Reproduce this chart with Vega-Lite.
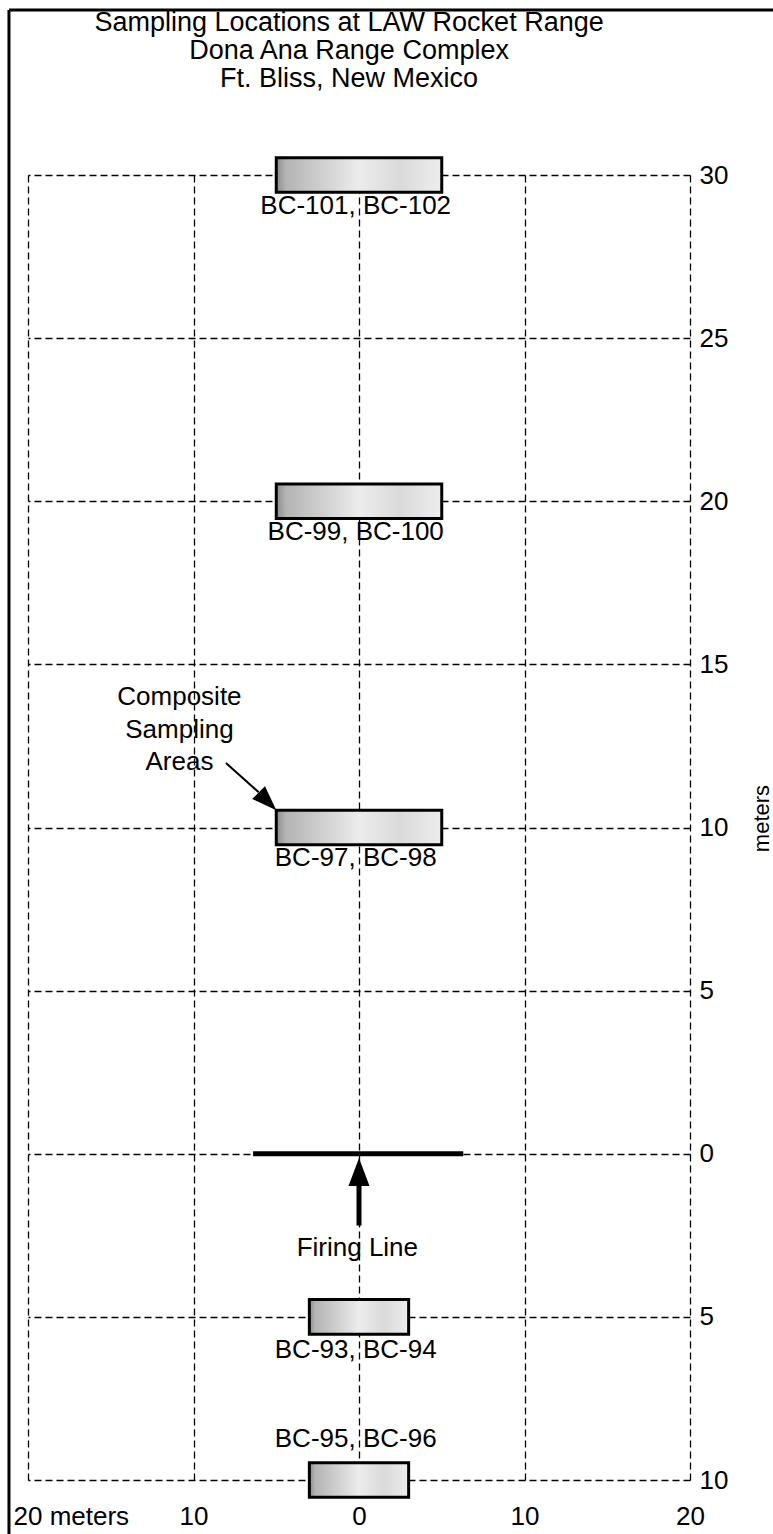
{
  "$schema": "https://vega.github.io/schema/vega-lite/v6.json",
  "width": 662,
  "height": 1305,
  "autosize": {"type": "none"},
  "padding": {"left": 28, "top": 175, "right": 83, "bottom": 54},
  "background": "white",
  "config": {
    "view": {"stroke": null},
    "font": "Liberation Sans",
    "text": {"font": "Liberation Sans"}
  },
  "datasets": {
    "frame": [
      {"x": -21.15, "x2": -21.15, "y": 35.06, "y2": -11.9},
      {"x": -21.15, "x2": 25.6, "y": 35.06, "y2": 35.06}
    ],
    "titleLines": [
      {"text": "Sampling Locations at LAW Rocket Range", "x": -0.6, "y": 34.41},
      {"text": "Dona Ana Range Complex", "x": -0.6, "y": 33.556},
      {"text": "Ft. Bliss, New Mexico", "x": -0.6, "y": 32.697}
    ],
    "boxes": [
      {"name": "BC-101, BC-102", "x": -5, "x2": 5, "y": 29.47, "y2": 30.53},
      {"name": "BC-99, BC-100", "x": -5, "x2": 5, "y": 19.47, "y2": 20.53},
      {"name": "BC-97, BC-98", "x": -5, "x2": 5, "y": 9.47, "y2": 10.53},
      {"name": "BC-93, BC-94", "x": -3, "x2": 3, "y": -5.53, "y2": -4.47},
      {"name": "BC-95, BC-96", "x": -3, "x2": 3, "y": -10.53, "y2": -9.47}
    ],
    "labels": [
      {"text": "BC-101, BC-102", "x": -0.2, "y": 29.05},
      {"text": "BC-99, BC-100", "x": -0.2, "y": 19.05},
      {"text": "BC-97, BC-98", "x": -0.2, "y": 9.05},
      {"text": "Firing Line", "x": -0.1, "y": -2.9},
      {"text": "BC-93, BC-94", "x": -0.2, "y": -6.0},
      {"text": "BC-95, BC-96", "x": -0.2, "y": -8.75},
      {"text": "Composite\nSampling\nAreas", "x": -10.85, "y": 14.0}
    ],
    "firing": [
      {"x": -6.4, "x2": 6.3, "y": 0, "y2": 0}
    ],
    "shafts": [
      {"x": 0, "x2": 0, "y": -0.95, "y2": -2.2, "kind": "firing"},
      {"x": -8.04, "x2": -6.06, "y": 11.98, "y2": 11.08, "kind": "composite"}
    ],
    "headFiring": [{"x": 0, "y": -0.56}],
    "headComposite": [{"x": -5.53, "y": 10.8}]
  },
  "encoding": {
    "x": {
      "field": "x",
      "type": "quantitative",
      "scale": {"domain": [-20, 20], "nice": false, "zero": false},
      "axis": {
        "orient": "bottom",
        "title": null,
        "values": [-20, -10, 0, 10, 20],
        "labelExpr": "datum.value == -20 ? '20 meters' : '' + abs(datum.value)",
        "labelAlign": {"condition": {"test": "datum.value == -20", "value": "left"}, "value": "center"},
        "labelOffset": {"condition": {"test": "datum.value == -20", "value": -15}, "value": 0},
        "labelFont": "Liberation Sans",
        "labelFontSize": 26,
        "labelColor": "black",
        "labelBaseline": "top",
        "labelPadding": 23,
        "labelFlush": false,
        "labelOverlap": false,
        "labelBound": false,
        "ticks": false,
        "domain": false,
        "grid": true,
        "gridColor": "black",
        "gridDash": [7, 4],
        "gridWidth": 1.3,
        "gridOpacity": 1
      }
    },
    "y": {
      "field": "y",
      "type": "quantitative",
      "scale": {"domain": [-10, 30], "nice": false, "zero": false},
      "axis": {
        "orient": "right",
        "title": "meters",
        "titleFont": "Liberation Sans",
        "titleFontSize": 22,
        "titleFontWeight": "normal",
        "titleColor": "black",
        "titleAngle": -90,
        "titleAlign": "center",
        "titleBaseline": "alphabetic",
        "titleX": 78,
        "titleY": 643,
        "values": [-10, -5, 0, 5, 10, 15, 20, 25, 30],
        "labelExpr": "'' + abs(datum.value)",
        "labelAlign": "left",
        "labelBaseline": "middle",
        "labelFont": "Liberation Sans",
        "labelFontSize": 26,
        "labelColor": "black",
        "labelPadding": 9,
        "labelFlush": false,
        "labelOverlap": false,
        "labelBound": false,
        "ticks": false,
        "domain": false,
        "grid": true,
        "gridColor": "black",
        "gridDash": [7, 4],
        "gridWidth": 1.3,
        "gridOpacity": 1
      }
    }
  },
  "layer": [
    {
      "data": {"name": "frame"},
      "mark": {"type": "rule", "color": "black", "strokeWidth": 3},
      "encoding": {
        "x2": {"field": "x2"},
        "y2": {"field": "y2"}
      }
    },
    {
      "data": {"name": "firing"},
      "mark": {"type": "rule", "color": "black", "strokeWidth": 5, "strokeCap": "butt"},
      "encoding": {
        "x2": {"field": "x2"},
        "y2": {"field": "y2"}
      }
    },
    {
      "data": {"name": "boxes"},
      "mark": {
        "type": "rect",
        "stroke": "black",
        "strokeWidth": 3,
        "fill": {
          "gradient": "linear",
          "x1": 0, "y1": 0, "x2": 1, "y2": 0,
          "stops": [
            {"offset": 0, "color": "#8c8c8c"},
            {"offset": 0.06, "color": "#b4b4b4"},
            {"offset": 0.3, "color": "#d2d2d2"},
            {"offset": 0.5, "color": "#ececec"},
            {"offset": 0.75, "color": "#dadada"},
            {"offset": 1, "color": "#ededed"}
          ]
        }
      },
      "encoding": {
        "x2": {"field": "x2"},
        "y2": {"field": "y2"}
      }
    },
    {
      "data": {"name": "shafts"},
      "mark": {"type": "rule", "color": "black", "strokeWidth": 2},
      "transform": [{"filter": "datum.kind == 'composite'"}],
      "encoding": {
        "x2": {"field": "x2"},
        "y2": {"field": "y2"}
      }
    },
    {
      "data": {"name": "shafts"},
      "mark": {"type": "rule", "color": "black", "strokeWidth": 5, "strokeCap": "butt"},
      "transform": [{"filter": "datum.kind == 'firing'"}],
      "encoding": {
        "x2": {"field": "x2"},
        "y2": {"field": "y2"}
      }
    },
    {
      "data": {"name": "headFiring"},
      "mark": {"type": "point", "shape": "M0,-1L0.75,1L-0.75,1Z", "size": 784, "filled": true, "color": "black", "opacity": 1, "strokeWidth": 0},
      "encoding": {}
    },
    {
      "data": {"name": "headComposite"},
      "mark": {"type": "point", "shape": "M0,-1L0.72,1L-0.72,1Z", "size": 625, "angle": 135, "filled": true, "color": "black", "opacity": 1, "strokeWidth": 0},
      "encoding": {}
    },
    {
      "data": {"name": "labels"},
      "mark": {"type": "text", "font": "Liberation Sans", "fontSize": 26, "color": "black", "align": "center", "baseline": "middle", "lineBreak": "\n", "lineHeight": 32.5},
      "encoding": {
        "text": {"field": "text"}
      }
    },
    {
      "data": {"name": "titleLines"},
      "mark": {"type": "text", "font": "Liberation Sans", "fontSize": 27, "color": "black", "align": "center", "baseline": "alphabetic"},
      "encoding": {
        "text": {"field": "text"}
      }
    }
  ]
}
